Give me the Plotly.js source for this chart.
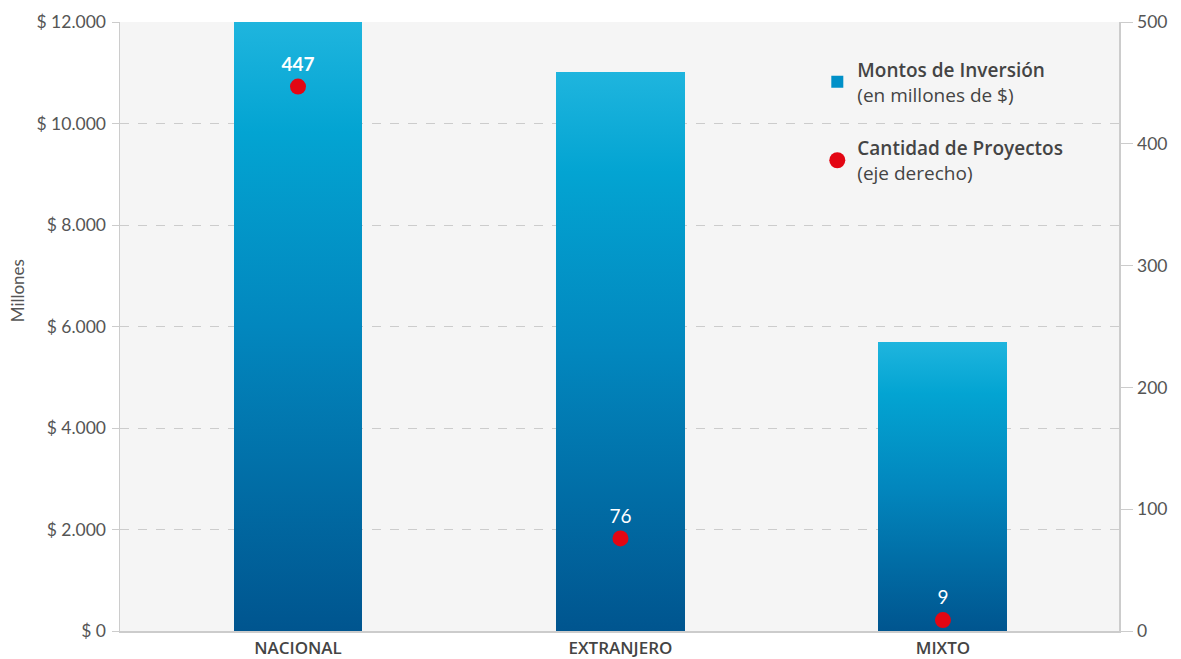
<!DOCTYPE html>
<html>
<head>
<meta charset="utf-8">
<script src="https://cdn.plot.ly/plotly-3.0.1.min.js"></script>
<style>
html,body{margin:0;padding:0;background:#fff;}
#chart{width:1181px;height:659px;}
</style>
</head>
<body>
<div id="chart"></div>
<script>
// ---- data ----
const categories = ['NACIONAL', 'EXTRANJERO', 'MIXTO'];
const montos = [12000, 11020, 5700];          // millones de $
const proyectos = [447, 76, 9];                // cantidad de proyectos
const proyectosLabels = ['<b>447</b>', '76', '9'];
const leftTicks = [0, 2000, 4000, 6000, 8000, 10000, 12000];
const leftTickLabels = ['$ 0', '$ 2.000', '$ 4.000', '$ 6.000', '$ 8.000', '$ 10.000', '$ 12.000'];
const rightTicks = [0, 100, 200, 300, 400, 500];

const FONT = 'Lato, "Open Sans", sans-serif';
const LFONT = '"Open Sans", Lato, sans-serif';
const GREY = '#555555';

const traces = [
  {
    type: 'bar',
    x: categories,
    y: montos,
    width: 0.4,
    name: '<span style="font-weight:600">Montos de Inversión</span><br>(en millones de $)',
    legendgroup: 'a',
    marker: {color: '#0090c8', line: {width: 0}},
    hoverinfo: 'skip'
  },
  {
    type: 'scatter',
    mode: 'markers+text',
    x: categories,
    y: proyectos,
    yaxis: 'y2',
    name: '<span style="font-weight:600">Cantidad de Proyectos</span><br>(eje derecho)',
    legendgroup: 'b',
    marker: {color: '#e30613', size: 16},
    text: proyectosLabels,
    textposition: 'top center',
    textfont: {color: '#ffffff', size: 19, family: FONT},
    hoverinfo: 'skip',
    cliponaxis: false
  }
];

const layout = {
  width: 1181,
  height: 659,
  margin: {l: 120, r: 62, t: 22, b: 28, pad: 0},
  paper_bgcolor: '#ffffff',
  plot_bgcolor: '#f5f5f5',
  separators: ',.',
  font: {family: FONT, color: GREY, size: 16},
  showlegend: true,
  legend: {
    x: 0.698, y: 0.953, xanchor: 'left', yanchor: 'top',
    bgcolor: 'rgba(0,0,0,0)',
    font: {size: 19, color: '#444444', family: LFONT},
    traceorder: 'grouped',
    tracegroupgap: 26,
    itemwidth: 30
  },
  bargap: 0,
  xaxis: {
    type: 'category',
    range: [-0.552, 2.546],
    showgrid: false,
    showline: true,
    linecolor: '#cccccc',
    linewidth: 1.5,
    ticks: '',
    ticklabelstandoff: 1,
    tickfont: {size: 17, color: '#444444', family: LFONT, weight: 600},
    zeroline: false,
    fixedrange: true
  },
  yaxis: {
    range: [0, 12000],
    tickmode: 'array',
    tickvals: leftTicks,
    ticktext: leftTickLabels,
    showgrid: true,
    gridcolor: '#cccccc',
    griddash: 'dash',
    gridwidth: 1,
    showline: true,
    linecolor: '#cccccc',
    linewidth: 1.5,
    ticks: 'outside',
    ticklen: 7,
    tickcolor: '#cccccc',
    ticklabelstandoff: 2,
    tickfont: {size: 17.5, color: GREY, family: FONT},
    zeroline: false,
    fixedrange: true
  },
  yaxis2: {
    overlaying: 'y',
    side: 'right',
    range: [0, 500],
    tickvals: rightTicks,
    showgrid: false,
    showline: true,
    linecolor: '#cccccc',
    linewidth: 1.5,
    ticks: 'outside',
    ticklen: 12,
    tickcolor: '#cccccc',
    ticklabelstandoff: 1,
    tickfont: {size: 17.5, color: GREY, family: FONT},
    zeroline: false,
    fixedrange: true
  },
  annotations: [{
    text: 'Millones',
    xref: 'paper', yref: 'paper',
    x: -0.103, y: 0.558,
    xanchor: 'center', yanchor: 'middle',
    textangle: -90,
    showarrow: false,
    font: {size: 17, color: GREY, family: FONT}
  }]
};

Plotly.newPlot('chart', traces, layout, {displayModeBar: false, staticPlot: true}).then(function (gd) {
  const svgNS = 'http://www.w3.org/2000/svg';
  const svg = gd.querySelector('.main-svg');
  let defs = svg.querySelector('defs');
  if (!defs) { defs = document.createElementNS(svgNS, 'defs'); svg.insertBefore(defs, svg.firstChild); }
  const grad = document.createElementNS(svgNS, 'linearGradient');
  grad.setAttribute('id', 'barGrad');
  grad.setAttribute('x1', '0'); grad.setAttribute('y1', '0');
  grad.setAttribute('x2', '0'); grad.setAttribute('y2', '1');
  [['0', '#1fb5de'], ['0.18', '#03a4d2'], ['0.5', '#0287be'], ['1', '#00558f']].forEach(function (s) {
    const st = document.createElementNS(svgNS, 'stop');
    st.setAttribute('offset', s[0]);
    st.setAttribute('stop-color', s[1]);
    grad.appendChild(st);
  });
  defs.appendChild(grad);
  gd.querySelectorAll('.barlayer .point path').forEach(function (p) {
    p.style.setProperty('fill', 'url(#barGrad)');
  });
  gd.querySelectorAll('.legend g.legendbar path').forEach(function (p) {
    p.style.setProperty('fill', 'url(#barGrad)');
  });
});
</script>
</body>
</html>
